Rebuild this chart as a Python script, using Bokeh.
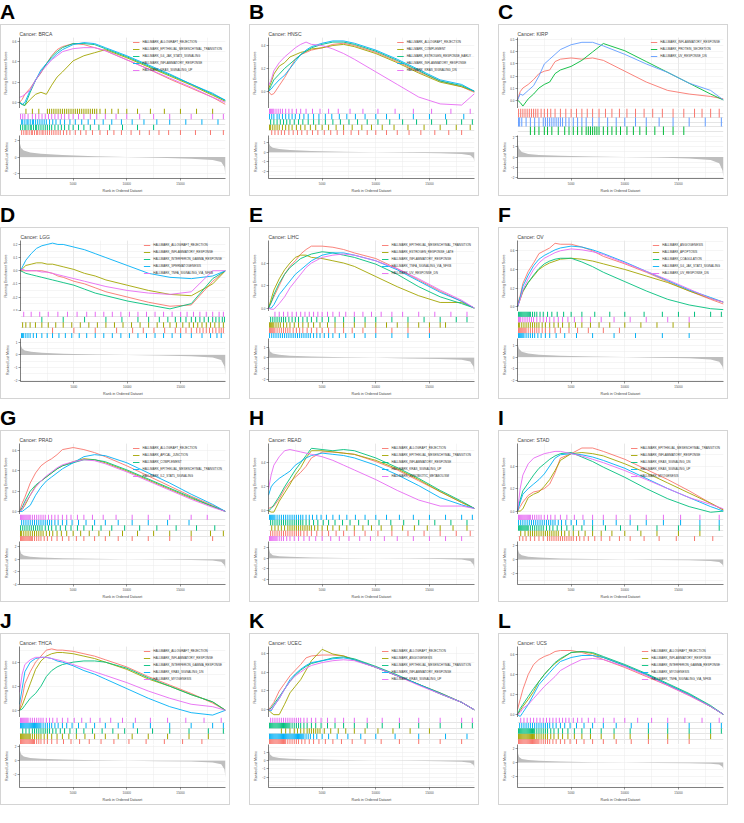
from bokeh.plotting import figure
from bokeh.layouts import column, row
from bokeh.models import Range1d, FixedTicker, Div, Grid, NumeralTickFormatter
from bokeh.embed import file_html
from bokeh.resources import INLINE

N_GENES = 19200
RANKS = [0, 250, 500, 1000, 1500, 2000, 2500, 3000, 3500, 4000, 5000, 6000, 7000, 8000,
         10000, 12000, 14000, 16000, 18000, 19200]
METRIC_RANKS = [0, 50, 150, 400, 1000, 2000, 4000, 7000, 10000, 13000, 16000, 18000, 18800, 19100, 19200]
X_TICKS = [5000, 10000, 15000]
X_GRID = [2500, 5000, 7500, 10000, 12500, 15000, 17500]
PAL5 = ["#F8766D", "#A3A500", "#00BF7D", "#00B0F6", "#E76BF3"]
PAL3 = ["#F8766D", "#00BA38", "#619CFF"]

# ---------------- A: BRCA ----------------
A_sets = ["HALLMARK_ALLOGRAFT_REJECTION", "HALLMARK_EPITHELIAL_MESENCHYMAL_TRANSITION",
          "HALLMARK_IL6_JAK_STAT3_SIGNALING", "HALLMARK_INFLAMMATORY_RESPONSE", "HALLMARK_KRAS_SIGNALING_UP"]
A_es = [
    [0.0, 0.03, 0.08, 0.14, 0.22, 0.29, 0.38, 0.46, 0.52, 0.55, 0.58, 0.57, 0.54, 0.51, 0.42, 0.33, 0.23, 0.14, 0.05, -0.02],
    [0.0, -0.02, -0.03, 0.03, 0.08, 0.10, 0.08, 0.17, 0.25, 0.30, 0.41, 0.46, 0.49, 0.52, 0.44, 0.35, 0.26, 0.17, 0.07, 0.01],
    [0.0, -0.02, -0.03, 0.10, 0.22, 0.30, 0.38, 0.45, 0.50, 0.54, 0.58, 0.58, 0.57, 0.53, 0.45, 0.36, 0.27, 0.18, 0.08, 0.02],
    [0.0, -0.02, 0.0, 0.12, 0.22, 0.32, 0.38, 0.43, 0.48, 0.52, 0.57, 0.59, 0.58, 0.54, 0.46, 0.37, 0.28, 0.18, 0.09, 0.02],
    [0.05, 0.06, 0.08, 0.12, 0.22, 0.30, 0.36, 0.42, 0.46, 0.50, 0.53, 0.54, 0.54, 0.51, 0.42, 0.33, 0.24, 0.15, 0.05, 0.0],
]
A_hits = [
    [2, 4, 6, 7, 9, 11, 12, 14, 16, 17, 19, 21, 22, 24, 26, 28, 30, 32, 34, 36, 38, 41, 44, 47, 52, 57, 62, 68, 75, 82, 88, 95, 104, 112, 121, 130, 139, 150, 164, 178, 190],
    [6, 12, 18, 26, 28, 30, 32, 34, 36, 38, 40, 42, 44, 46, 48, 50, 52, 54, 56, 58, 60, 62, 64, 66, 68, 70, 72, 75, 80, 86, 92, 100, 110, 122, 135, 150, 165, 180],
    [1, 3, 5, 6, 8, 10, 11, 13, 15, 16, 18, 20, 22, 24, 26, 28, 30, 33, 36, 39, 42, 46, 50, 55, 60, 66, 74, 84, 96, 110, 125],
    [2, 3, 5, 7, 8, 10, 12, 13, 15, 17, 19, 21, 23, 25, 28, 31, 34, 38, 42, 47, 52, 58, 64, 70, 78, 86, 95, 105, 116, 128, 140, 155, 170, 185],
    [1, 3, 5, 8, 12, 15, 18, 21, 24, 27, 30, 33, 36, 39, 42, 46, 50, 55, 60, 66, 72, 80, 90, 100, 112, 125, 140, 160, 180, 190],
]
A_rows = [0, 2, 3, 4, 1]
A_base = 0
A_es_range = (-0.06, 0.64)
A_es_ticks = [0.0, 0.2, 0.4, 0.6]
A_metric = [2.3, 1.6, 1.1, 0.8, 0.55, 0.4, 0.25, 0.1, 0.0, -0.1, -0.2, -0.35, -0.6, -1.2, -2.3]
A_metric_range = (-2.6, 2.6)
A_metric_ticks = [-2, 0, 2]

# ---------------- B: HNSC ----------------
B_sets = ["HALLMARK_ALLOGRAFT_REJECTION", "HALLMARK_COMPLEMENT", "HALLMARK_ESTROGEN_RESPONSE_EARLY",
          "HALLMARK_INFLAMMATORY_RESPONSE", "HALLMARK_KRAS_SIGNALING_DN"]
B_es = [
    [0.0, -0.03, -0.02, 0.05, 0.12, 0.20, 0.28, 0.32, 0.34, 0.36, 0.38, 0.41, 0.42, 0.40, 0.34, 0.26, 0.17, 0.09, 0.04, -0.01],
    [0.02, 0.08, 0.15, 0.22, 0.25, 0.30, 0.32, 0.34, 0.35, 0.37, 0.38, 0.40, 0.41, 0.39, 0.33, 0.25, 0.16, 0.08, 0.04, 0.0],
    [0.0, 0.05, 0.10, 0.15, 0.20, 0.24, 0.28, 0.32, 0.35, 0.38, 0.41, 0.43, 0.43, 0.41, 0.35, 0.27, 0.18, 0.09, 0.05, 0.0],
    [0.0, 0.02, 0.05, 0.10, 0.14, 0.20, 0.26, 0.32, 0.36, 0.39, 0.42, 0.44, 0.44, 0.42, 0.36, 0.28, 0.19, 0.10, 0.06, 0.0],
    [0.05, 0.10, 0.18, 0.25, 0.30, 0.34, 0.38, 0.41, 0.43, 0.41, 0.40, 0.37, 0.33, 0.28, 0.17, 0.06, -0.05, -0.11, -0.12, -0.02],
]
B_hits = [
    [3, 6, 9, 12, 15, 19, 23, 27, 31, 36, 41, 46, 52, 58, 64, 70, 77, 84, 92, 100, 110, 120, 131, 142, 155, 168, 180],
    [1, 2, 4, 6, 8, 10, 13, 16, 19, 22, 26, 30, 34, 39, 44, 50, 56, 63, 70, 78, 87, 96, 106, 117, 130, 145, 160, 175, 188],
    [2, 5, 8, 11, 14, 17, 20, 24, 28, 32, 37, 42, 47, 53, 60, 67, 75, 83, 92, 102, 113, 125, 138, 152, 166, 180, 190],
    [1, 3, 5, 8, 10, 13, 16, 19, 22, 25, 29, 33, 37, 42, 47, 53, 59, 66, 73, 81, 90, 100, 110, 122, 135, 150, 165, 182],
    [1, 2, 3, 4, 5, 7, 9, 11, 13, 16, 19, 22, 26, 30, 35, 41, 48, 56, 65, 76, 88, 102, 118, 135, 152, 170, 188],
]
B_rows = [0, 1, 2, 3, 4]
B_base = 0
B_es_range = (-0.15, 0.47)
B_es_ticks = [0.0, 0.2, 0.4]
B_metric = [1.6, 1.0, 0.7, 0.5, 0.35, 0.25, 0.15, 0.06, 0.0, -0.05, -0.1, -0.18, -0.3, -0.6, -1.0]
B_metric_range = (-2.8, 1.8)
B_metric_ticks = [-2, -1, 0, 1]

# ---------------- C: KIRP ----------------
C_sets = ["HALLMARK_INFLAMMATORY_RESPONSE", "HALLMARK_PROTEIN_SECRETION", "HALLMARK_UV_RESPONSE_DN"]
C_es = [
    [0.0, 0.07, 0.10, 0.13, 0.17, 0.22, 0.24, 0.25, 0.32, 0.34, 0.35, 0.34, 0.35, 0.33, 0.24, 0.15, 0.08, 0.05, 0.03, 0.01],
    [0.0, -0.02, -0.05, 0.01, 0.05, 0.10, 0.13, 0.15, 0.22, 0.25, 0.28, 0.33, 0.40, 0.47, 0.41, 0.32, 0.23, 0.14, 0.05, 0.0],
    [0.0, 0.05, 0.04, 0.08, 0.12, 0.20, 0.30, 0.34, 0.38, 0.42, 0.46, 0.48, 0.48, 0.45, 0.38, 0.30, 0.23, 0.14, 0.08, 0.0],
]
C_hits = [
    [1, 3, 5, 7, 9, 11, 13, 15, 17, 19, 22, 25, 28, 31, 35, 40, 45, 50, 55, 60, 65, 70, 76, 82, 88, 95, 102, 110, 118, 126, 135, 145, 155, 165, 172, 180, 188],
    [12, 16, 20, 25, 28, 32, 38, 44, 48, 52, 56, 60, 64, 66, 68, 70, 72, 74, 76, 80, 84, 88, 92, 96, 102, 108, 114, 120, 128, 136, 145, 155],
    [1, 2, 4, 8, 12, 16, 20, 24, 26, 28, 30, 32, 34, 36, 38, 40, 42, 45, 48, 52, 56, 60, 64, 70, 76, 84, 92, 100, 110, 120, 132, 145, 160, 175, 190],
]
C_rows = [1, 2, 0]
C_base = 0
C_es_range = (-0.07, 0.52)
C_es_ticks = [0.0, 0.1, 0.2, 0.3, 0.4, 0.5]
C_metric = [1.9, 1.2, 0.8, 0.5, 0.3, 0.2, 0.12, 0.05, 0.0, -0.06, -0.15, -0.3, -0.6, -1.3, -2.0]
C_metric_range = (-2.1, 2.1)
C_metric_ticks = [-2, -1, 0, 1, 2]

# ---------------- D: LGG ----------------
D_sets = ["HALLMARK_ALLOGRAFT_REJECTION", "HALLMARK_INFLAMMATORY_RESPONSE", "HALLMARK_INTERFERON_GAMMA_RESPONSE",
          "HALLMARK_SPERMATOGENESIS", "HALLMARK_TNFA_SIGNALING_VIA_NFKB"]
D_es = [
    [0.0, 0.0, 0.0, 0.0, 0.0, 0.0, -0.01, -0.02, -0.04, -0.05, -0.08, -0.10, -0.13, -0.16, -0.20, -0.24, -0.27, -0.26, -0.08, 0.0],
    [0.0, 0.02, 0.04, 0.05, 0.06, 0.06, 0.05, 0.05, 0.04, 0.03, 0.01, -0.02, -0.04, -0.07, -0.11, -0.15, -0.18, -0.19, -0.10, 0.0],
    [0.0, -0.01, -0.02, -0.03, -0.04, -0.05, -0.06, -0.07, -0.08, -0.09, -0.11, -0.14, -0.17, -0.19, -0.23, -0.26, -0.29, -0.25, -0.06, 0.0],
    [0.0, 0.04, 0.08, 0.13, 0.17, 0.19, 0.20, 0.21, 0.20, 0.20, 0.18, 0.16, 0.13, 0.10, 0.04, -0.02, -0.05, -0.06, -0.04, 0.0],
    [0.01, 0.01, 0.0, 0.0, 0.0, -0.01, -0.01, -0.02, -0.03, -0.04, -0.06, -0.08, -0.10, -0.12, -0.15, -0.17, -0.18, -0.16, 0.0, 0.0],
]
D_hits = [
    [30, 50, 70, 90, 105, 115, 125, 135, 145, 150, 155, 160, 165, 168, 171, 174, 177, 180, 183, 186, 188, 190],
    [2, 5, 9, 14, 20, 26, 33, 40, 48, 56, 64, 72, 80, 88, 96, 104, 112, 120, 128, 134, 140, 146, 152, 158, 162, 166, 170, 174, 178, 182, 186, 190],
    [20, 40, 60, 80, 95, 110, 120, 130, 138, 145, 150, 155, 160, 164, 168, 172, 176, 180, 183, 186, 189, 191],
    [1, 2, 3, 5, 7, 9, 12, 15, 20, 25, 30, 36, 42, 48, 55, 62, 70, 78, 86, 94, 102, 110, 118, 126, 134, 142, 150, 160, 170, 178, 184, 188],
    [3, 10, 18, 26, 35, 44, 53, 62, 70, 78, 86, 94, 102, 110, 118, 126, 134, 142, 150, 156, 162, 168, 174, 180, 186, 190],
]
D_rows = [3, 0, 1, 2, 4]
D_base = 3
D_es_range = (-0.31, 0.23)
D_es_ticks = [-0.3, -0.2, -0.1, 0.0, 0.1, 0.2]
D_metric = [1.0, 0.7, 0.5, 0.35, 0.25, 0.18, 0.1, 0.04, 0.0, -0.05, -0.1, -0.2, -0.4, -0.9, -1.6]
D_metric_range = (-2.1, 1.3)
D_metric_ticks = [-2, -1, 0, 1]

# ---------------- E: LIHC ----------------
E_sets = ["HALLMARK_EPITHELIAL_MESENCHYMAL_TRANSITION", "HALLMARK_ESTROGEN_RESPONSE_LATE",
          "HALLMARK_INFLAMMATORY_RESPONSE", "HALLMARK_TNFA_SIGNALING_VIA_NFKB", "HALLMARK_UV_RESPONSE_DN"]
E_es = [
    [0.0, 0.05, 0.10, 0.20, 0.30, 0.37, 0.42, 0.48, 0.52, 0.55, 0.55, 0.54, 0.52, 0.49, 0.44, 0.35, 0.25, 0.15, 0.06, 0.0],
    [0.0, 0.08, 0.16, 0.26, 0.34, 0.40, 0.45, 0.47, 0.47, 0.45, 0.44, 0.42, 0.40, 0.37, 0.28, 0.19, 0.11, 0.05, 0.05, 0.0],
    [0.0, 0.05, 0.12, 0.22, 0.30, 0.36, 0.40, 0.44, 0.46, 0.48, 0.50, 0.49, 0.47, 0.45, 0.39, 0.30, 0.19, 0.10, 0.04, 0.0],
    [0.0, 0.0, 0.03, 0.12, 0.18, 0.24, 0.30, 0.34, 0.38, 0.42, 0.47, 0.49, 0.49, 0.47, 0.42, 0.34, 0.24, 0.14, 0.06, 0.0],
    [0.0, -0.01, -0.01, 0.04, 0.10, 0.18, 0.24, 0.30, 0.36, 0.40, 0.45, 0.47, 0.48, 0.47, 0.42, 0.35, 0.26, 0.16, 0.07, 0.0],
]
E_hits = [
    [1, 2, 3, 4, 5, 6, 8, 10, 12, 14, 16, 18, 20, 23, 26, 29, 32, 36, 40, 45, 50, 56, 62, 70, 78, 88, 100, 115, 130, 150],
    [1, 2, 3, 4, 5, 7, 9, 11, 14, 17, 20, 24, 28, 32, 37, 42, 48, 55, 62, 70, 80, 90, 100, 110, 120, 130, 140, 150, 160, 165],
    [2, 4, 6, 8, 10, 12, 14, 16, 19, 22, 25, 28, 32, 36, 40, 45, 50, 56, 62, 70, 80, 90, 100, 115, 130, 145, 160, 175, 185],
    [1, 3, 5, 7, 9, 11, 13, 15, 17, 19, 21, 23, 25, 27, 29, 31, 33, 35, 37, 39, 42, 45, 48, 52, 56, 60, 66, 72, 80, 90, 100, 115, 130, 150],
    [6, 10, 14, 18, 22, 26, 30, 34, 38, 42, 46, 50, 55, 60, 66, 72, 80, 88, 96, 105, 115, 125, 140, 155, 170, 185],
]
E_rows = [3, 0, 1, 2, 4]
E_base = 4
E_es_range = (-0.03, 0.6)
E_es_ticks = [0.0, 0.2, 0.4]
E_metric = [1.5, 1.0, 0.6, 0.4, 0.28, 0.2, 0.12, 0.05, 0.0, -0.05, -0.1, -0.18, -0.35, -0.8, -1.5]
E_metric_range = (-2.2, 1.8)
E_metric_ticks = [-2, -1, 0, 1]

# ---------------- F: OV ----------------
F_sets = ["HALLMARK_ANGIOGENESIS", "HALLMARK_APOPTOSIS", "HALLMARK_COAGULATION",
          "HALLMARK_IL6_JAK_STAT3_SIGNALING", "HALLMARK_UV_RESPONSE_DN"]
F_es = [
    [0.03, 0.12, 0.25, 0.38, 0.47, 0.57, 0.60, 0.63, 0.68, 0.67, 0.67, 0.64, 0.60, 0.54, 0.46, 0.37, 0.27, 0.17, 0.08, 0.03],
    [0.0, 0.08, 0.16, 0.26, 0.33, 0.40, 0.44, 0.47, 0.49, 0.51, 0.52, 0.51, 0.49, 0.46, 0.40, 0.33, 0.26, 0.17, 0.09, 0.05],
    [0.0, 0.10, 0.17, 0.26, 0.34, 0.41, 0.46, 0.49, 0.51, 0.52, 0.52, 0.48, 0.43, 0.37, 0.27, 0.17, 0.08, 0.02, -0.02, -0.03],
    [0.0, 0.10, 0.22, 0.34, 0.44, 0.51, 0.55, 0.58, 0.61, 0.63, 0.65, 0.64, 0.61, 0.57, 0.48, 0.38, 0.28, 0.18, 0.10, 0.05],
    [0.0, 0.08, 0.18, 0.30, 0.40, 0.47, 0.52, 0.55, 0.58, 0.60, 0.62, 0.61, 0.59, 0.56, 0.47, 0.38, 0.29, 0.19, 0.09, 0.05],
]
F_hits = [
    [1, 2, 3, 4, 5, 6, 7, 8, 10, 12, 14, 16, 18, 20, 23, 26, 30, 35, 40, 48, 56, 66, 80, 95],
    [1, 2, 4, 6, 8, 10, 12, 14, 16, 18, 20, 23, 26, 30, 34, 38, 42, 48, 54, 60, 68, 76, 86, 100, 115, 130, 145, 160],
    [1, 2, 3, 4, 5, 6, 7, 8, 9, 10, 11, 12, 14, 16, 18, 21, 24, 28, 32, 37, 43, 50, 60, 72, 86, 100, 118, 135, 150, 165, 180, 190],
    [1, 2, 3, 4, 5, 6, 8, 10, 12, 14, 16, 19, 22, 26, 30, 36, 44, 55, 70, 90, 110, 135, 160],
    [1, 2, 3, 5, 7, 9, 11, 13, 15, 18, 21, 24, 27, 30, 34, 38, 42, 47, 53, 60, 68, 78, 90, 105, 120, 140, 160],
]
F_rows = [3, 0, 1, 4, 2]
F_base = 2
F_es_range = (-0.05, 0.71)
F_es_ticks = [0.0, 0.2, 0.4, 0.6]
F_metric = [1.6, 1.0, 0.7, 0.45, 0.3, 0.2, 0.12, 0.05, 0.0, -0.05, -0.1, -0.2, -0.4, -0.8, -1.2]
F_metric_range = (-2.1, 1.6)
F_metric_ticks = [-2, -1, 0, 1]

# ---------------- G: PRAD ----------------
G_sets = ["HALLMARK_ALLOGRAFT_REJECTION", "HALLMARK_APICAL_JUNCTION", "HALLMARK_COMPLEMENT",
          "HALLMARK_EPITHELIAL_MESENCHYMAL_TRANSITION", "HALLMARK_IL2_STAT5_SIGNALING"]
G_es = [
    [0.0, 0.08, 0.14, 0.28, 0.38, 0.45, 0.49, 0.52, 0.56, 0.61, 0.63, 0.61, 0.58, 0.54, 0.45, 0.35, 0.25, 0.15, 0.06, 0.0],
    [0.0, 0.02, 0.06, 0.16, 0.25, 0.30, 0.34, 0.38, 0.42, 0.45, 0.49, 0.52, 0.51, 0.48, 0.40, 0.31, 0.22, 0.13, 0.05, 0.0],
    [0.0, 0.04, 0.10, 0.20, 0.26, 0.30, 0.34, 0.38, 0.42, 0.45, 0.48, 0.51, 0.51, 0.49, 0.41, 0.32, 0.23, 0.14, 0.05, 0.0],
    [0.0, 0.0, 0.02, 0.06, 0.16, 0.24, 0.30, 0.34, 0.38, 0.42, 0.48, 0.54, 0.56, 0.55, 0.48, 0.38, 0.28, 0.17, 0.07, 0.0],
    [0.0, 0.02, 0.08, 0.16, 0.24, 0.30, 0.35, 0.39, 0.43, 0.46, 0.49, 0.51, 0.50, 0.47, 0.39, 0.30, 0.21, 0.12, 0.04, 0.0],
]
G_hits = [
    [1, 2, 3, 4, 5, 6, 7, 8, 9, 10, 11, 12, 14, 16, 18, 20, 23, 26, 30, 35, 40, 46, 53, 60, 70, 80, 92, 105, 120, 140, 160, 180],
    [1, 2, 4, 6, 8, 10, 12, 14, 16, 18, 20, 22, 25, 28, 31, 35, 39, 44, 50, 57, 65, 74, 84, 96, 110, 125, 140, 160, 178, 190],
    [1, 3, 5, 7, 9, 11, 13, 15, 17, 19, 21, 24, 27, 30, 34, 38, 43, 48, 54, 60, 68, 76, 86, 98, 112, 128, 146, 165, 182],
    [2, 4, 6, 8, 10, 12, 14, 16, 18, 20, 22, 24, 26, 28, 30, 33, 36, 40, 44, 49, 55, 62, 70, 80, 92, 105, 120, 138, 158],
    [1, 2, 3, 4, 5, 6, 7, 8, 9, 10, 12, 14, 16, 18, 20, 22, 24, 27, 30, 33, 36, 40, 44, 48, 54, 60, 68, 78, 90, 105, 120, 140, 160, 175],
]
G_rows = [0, 1, 2, 3, 4]
G_base = 4
G_es_range = (-0.03, 0.67)
G_es_ticks = [0.0, 0.2, 0.4, 0.6]
G_metric = [2.5, 1.5, 0.9, 0.6, 0.4, 0.28, 0.16, 0.06, 0.0, -0.06, -0.12, -0.22, -0.4, -0.9, -1.5]
G_metric_range = (-4.0, 2.8)
G_metric_ticks = [-4, -2, 0, 2]

# ---------------- H: READ ----------------
H_sets = ["HALLMARK_ALLOGRAFT_REJECTION", "HALLMARK_EPITHELIAL_MESENCHYMAL_TRANSITION",
          "HALLMARK_INFLAMMATORY_RESPONSE", "HALLMARK_KRAS_SIGNALING_UP", "HALLMARK_XENOBIOTIC_METABOLISM"]
H_es = [
    [0.02, 0.03, 0.04, 0.10, 0.18, 0.24, 0.28, 0.32, 0.37, 0.44, 0.49, 0.49, 0.48, 0.47, 0.41, 0.34, 0.25, 0.16, 0.07, 0.02],
    [0.0, -0.01, -0.01, 0.08, 0.15, 0.22, 0.30, 0.36, 0.44, 0.50, 0.50, 0.49, 0.48, 0.47, 0.42, 0.35, 0.26, 0.16, 0.07, 0.02],
    [0.0, 0.02, 0.05, 0.12, 0.20, 0.27, 0.34, 0.40, 0.46, 0.52, 0.51, 0.50, 0.51, 0.50, 0.44, 0.36, 0.27, 0.17, 0.08, 0.02],
    [0.13, 0.20, 0.23, 0.27, 0.30, 0.33, 0.38, 0.41, 0.44, 0.46, 0.48, 0.47, 0.46, 0.44, 0.38, 0.30, 0.21, 0.11, 0.05, 0.02],
    [0.18, 0.30, 0.38, 0.45, 0.50, 0.51, 0.50, 0.49, 0.48, 0.47, 0.45, 0.42, 0.38, 0.34, 0.26, 0.17, 0.09, 0.04, 0.04, 0.02],
]
H_hits = [
    [2, 4, 6, 8, 10, 12, 14, 16, 18, 20, 22, 24, 26, 28, 30, 33, 36, 40, 45, 50, 56, 63, 70, 80, 90, 102, 115, 130, 145, 160, 175, 188],
    [3, 6, 9, 12, 15, 18, 20, 22, 24, 26, 28, 30, 32, 34, 36, 38, 40, 43, 46, 50, 55, 60, 66, 73, 80, 88, 96, 105, 115, 125, 136, 148, 160, 172, 185],
    [2, 4, 6, 8, 10, 12, 14, 16, 18, 20, 22, 24, 26, 28, 30, 32, 35, 38, 42, 46, 51, 56, 62, 69, 76, 84, 93, 103, 114, 126, 140, 155, 170, 185],
    [1, 2, 3, 4, 5, 6, 8, 10, 12, 14, 16, 18, 20, 22, 24, 26, 28, 30, 32, 35, 38, 41, 45, 49, 54, 60, 66, 73, 81, 90, 100, 110, 122, 135, 150, 165, 180, 190],
    [1, 2, 3, 4, 5, 6, 7, 8, 10, 12, 14, 17, 20, 24, 28, 33, 38, 44, 50, 58, 66, 75, 85, 95, 108, 120, 135, 150, 165, 180],
]
H_rows = [4, 0, 1, 2, 3]
H_base = 3
H_es_range = (-0.03, 0.56)
H_es_ticks = [0.0, 0.2, 0.4]
H_metric = [2.8, 1.8, 1.0, 0.6, 0.4, 0.28, 0.16, 0.06, 0.0, -0.06, -0.12, -0.22, -0.5, -1.2, -2.0]
H_metric_range = (-5.0, 3.2)
H_metric_ticks = [-4, -2, 0, 2]

# ---------------- I: STAD ----------------
I_sets = ["HALLMARK_EPITHELIAL_MESENCHYMAL_TRANSITION", "HALLMARK_INFLAMMATORY_RESPONSE",
          "HALLMARK_KRAS_SIGNALING_DN", "HALLMARK_KRAS_SIGNALING_UP", "HALLMARK_MYOGENESIS"]
I_es = [
    [0.0, 0.04, 0.08, 0.14, 0.17, 0.18, 0.20, 0.24, 0.34, 0.47, 0.51, 0.56, 0.56, 0.53, 0.46, 0.37, 0.28, 0.18, 0.07, 0.01],
    [0.0, 0.0, 0.02, 0.12, 0.15, 0.17, 0.22, 0.28, 0.36, 0.45, 0.51, 0.52, 0.51, 0.49, 0.42, 0.34, 0.25, 0.16, 0.07, 0.01],
    [0.0, 0.10, 0.18, 0.25, 0.32, 0.38, 0.42, 0.46, 0.49, 0.51, 0.52, 0.48, 0.44, 0.39, 0.30, 0.20, 0.11, 0.04, -0.01, 0.0],
    [0.0, 0.08, 0.15, 0.20, 0.24, 0.28, 0.33, 0.40, 0.47, 0.50, 0.51, 0.50, 0.48, 0.45, 0.38, 0.29, 0.20, 0.12, 0.04, 0.0],
    [0.0, 0.20, 0.32, 0.42, 0.47, 0.49, 0.51, 0.52, 0.53, 0.53, 0.51, 0.49, 0.46, 0.43, 0.36, 0.28, 0.20, 0.12, 0.06, 0.02],
]
I_hits = [
    [2, 5, 8, 12, 16, 20, 24, 28, 30, 32, 34, 36, 38, 40, 42, 44, 46, 48, 50, 52, 55, 58, 62, 66, 72, 78, 86, 95, 105, 118, 132, 148, 165, 182],
    [3, 7, 10, 12, 14, 16, 18, 20, 22, 24, 26, 28, 30, 32, 34, 36, 38, 41, 44, 48, 52, 57, 63, 70, 78, 88, 100, 115, 130, 150, 170],
    [1, 2, 3, 4, 5, 6, 7, 8, 9, 10, 12, 14, 16, 18, 20, 22, 24, 27, 30, 33, 37, 41, 46, 52, 60, 70, 82, 96, 112, 130, 150, 170, 188],
    [1, 3, 5, 7, 9, 11, 13, 15, 17, 19, 21, 23, 25, 27, 29, 31, 33, 35, 38, 41, 45, 50, 55, 62, 70, 80, 92, 105, 120, 136, 152, 170, 188],
    [1, 2, 3, 4, 5, 6, 7, 8, 9, 10, 11, 12, 14, 16, 18, 20, 22, 25, 28, 31, 35, 40, 46, 53, 61, 70, 80, 92, 105, 120, 136, 152, 170, 188],
]
I_rows = [0, 1, 2, 3, 4]
I_base = 4
I_es_range = (-0.03, 0.6)
I_es_ticks = [0.0, 0.2, 0.4]
I_metric = [2.2, 1.4, 0.9, 0.6, 0.4, 0.28, 0.16, 0.06, 0.0, -0.06, -0.12, -0.2, -0.35, -0.7, -1.1]
I_metric_range = (-3.6, 2.6)
I_metric_ticks = [-2, 0, 2]

# ---------------- J: THCA ----------------
J_sets = ["HALLMARK_ALLOGRAFT_REJECTION", "HALLMARK_INFLAMMATORY_RESPONSE", "HALLMARK_INTERFERON_GAMMA_RESPONSE",
          "HALLMARK_KRAS_SIGNALING_DN", "HALLMARK_MYOGENESIS"]
J_es = [
    [0.0, 0.10, 0.22, 0.32, 0.40, 0.45, 0.50, 0.51, 0.50, 0.50, 0.49, 0.47, 0.45, 0.42, 0.36, 0.28, 0.21, 0.14, 0.06, 0.0],
    [0.0, 0.04, 0.10, 0.22, 0.34, 0.41, 0.45, 0.47, 0.48, 0.48, 0.47, 0.45, 0.43, 0.40, 0.34, 0.26, 0.20, 0.13, 0.07, 0.0],
    [0.0, 0.01, 0.04, 0.10, 0.14, 0.20, 0.28, 0.33, 0.36, 0.38, 0.40, 0.41, 0.41, 0.40, 0.35, 0.27, 0.20, 0.13, 0.07, 0.0],
    [0.05, 0.18, 0.32, 0.40, 0.43, 0.44, 0.44, 0.43, 0.41, 0.40, 0.37, 0.33, 0.30, 0.26, 0.18, 0.10, 0.03, -0.02, -0.04, 0.0],
    [0.15, 0.30, 0.38, 0.42, 0.44, 0.44, 0.44, 0.43, 0.42, 0.41, 0.38, 0.35, 0.32, 0.29, 0.23, 0.16, 0.10, 0.05, 0.03, 0.0],
]
J_hits = [
    [1, 2, 3, 4, 5, 6, 7, 8, 9, 10, 11, 12, 13, 14, 16, 18, 20, 23, 26, 30, 35, 41, 48, 56, 65, 76, 88, 102, 118, 135, 152, 170],
    [1, 2, 3, 4, 5, 6, 7, 8, 9, 10, 12, 14, 16, 18, 20, 23, 26, 30, 35, 40, 46, 53, 61, 70, 80, 92, 105, 120, 138, 158, 176],
    [3, 6, 9, 12, 14, 16, 18, 20, 22, 24, 26, 28, 31, 34, 38, 42, 47, 53, 60, 68, 77, 87, 98, 110, 124, 140, 158, 176, 190],
    [1, 2, 3, 4, 5, 6, 7, 8, 9, 10, 11, 12, 13, 14, 15, 16, 17, 18, 19, 20, 22, 24, 26, 28, 30, 33, 36, 40, 44, 49, 55, 62, 70, 80, 92, 106, 122, 140, 160, 180, 190],
    [1, 2, 3, 4, 5, 6, 7, 8, 10, 12, 14, 16, 18, 20, 22, 25, 28, 31, 35, 40, 45, 51, 58, 66, 75, 85, 96, 108, 122, 138, 155, 172, 188],
]
J_rows = [0, 1, 2, 3, 4]
J_base = 4
J_es_range = (-0.06, 0.53)
J_es_ticks = [0.0, 0.2, 0.4]
J_metric = [2.0, 1.4, 0.9, 0.6, 0.4, 0.28, 0.16, 0.06, 0.0, -0.06, -0.12, -0.25, -0.5, -1.2, -2.4]
J_metric_range = (-3.8, 2.3)
J_metric_ticks = [-2, 0, 2]

# ---------------- K: UCEC ----------------
K_sets = ["HALLMARK_ALLOGRAFT_REJECTION", "HALLMARK_ANGIOGENESIS", "HALLMARK_EPITHELIAL_MESENCHYMAL_TRANSITION",
          "HALLMARK_INFLAMMATORY_RESPONSE", "HALLMARK_KRAS_SIGNALING_UP"]
K_es = [
    [0.0, 0.04, 0.08, 0.20, 0.28, 0.36, 0.42, 0.48, 0.55, 0.57, 0.58, 0.58, 0.57, 0.53, 0.45, 0.36, 0.27, 0.18, 0.08, 0.0],
    [0.0, -0.03, -0.05, -0.05, 0.06, 0.18, 0.25, 0.32, 0.42, 0.52, 0.64, 0.59, 0.57, 0.53, 0.45, 0.36, 0.27, 0.17, 0.08, 0.0],
    [0.0, 0.02, 0.06, 0.14, 0.22, 0.30, 0.37, 0.42, 0.46, 0.49, 0.52, 0.55, 0.56, 0.54, 0.46, 0.37, 0.27, 0.18, 0.08, 0.0],
    [0.0, -0.01, 0.04, 0.12, 0.22, 0.32, 0.38, 0.43, 0.47, 0.50, 0.52, 0.54, 0.55, 0.53, 0.45, 0.36, 0.27, 0.17, 0.08, 0.0],
    [0.0, 0.0, 0.04, 0.12, 0.22, 0.30, 0.36, 0.40, 0.44, 0.47, 0.50, 0.52, 0.53, 0.52, 0.45, 0.36, 0.26, 0.17, 0.08, 0.0],
]
K_hits = [
    [1, 2, 3, 4, 5, 6, 7, 8, 9, 10, 11, 12, 13, 14, 15, 16, 18, 20, 22, 24, 26, 28, 31, 34, 38, 42, 47, 53, 60, 68, 78, 90, 105, 122, 140, 160, 180],
    [12, 16, 20, 24, 27, 30, 33, 36, 38, 40, 42, 44, 46, 48, 52, 58, 65, 72, 80, 90, 102, 116, 132, 150],
    [1, 2, 3, 4, 5, 6, 7, 8, 9, 10, 11, 12, 13, 14, 15, 16, 17, 18, 19, 20, 22, 24, 26, 28, 30, 33, 36, 40, 44, 49, 55, 62, 70, 80, 92, 106, 122, 140, 160, 180, 190],
    [1, 2, 3, 4, 5, 6, 7, 8, 9, 10, 11, 12, 13, 14, 15, 16, 17, 18, 19, 20, 21, 22, 23, 24, 25, 26, 27, 28, 29, 30, 31, 32, 33, 35, 37, 39, 42, 45, 50, 56, 64, 74, 86, 100, 118, 140, 165, 185],
    [2, 4, 6, 8, 10, 12, 14, 16, 18, 20, 22, 24, 26, 28, 30, 33, 36, 40, 44, 49, 55, 62, 70, 80, 92, 106, 122, 140, 160, 180, 190],
]
K_rows = [0, 3, 1, 2, 4]
K_base = 4
K_es_range = (-0.08, 0.67)
K_es_ticks = [0.0, 0.2, 0.4, 0.6]
K_metric = [1.8, 1.2, 0.7, 0.45, 0.3, 0.2, 0.12, 0.05, 0.0, -0.04, -0.08, -0.14, -0.25, -0.5, -0.9]
K_metric_range = (-3.2, 1.9)
K_metric_ticks = [-2, -1, 0, 1]

# ---------------- L: UCS ----------------
L_sets = ["HALLMARK_ALLOGRAFT_REJECTION", "HALLMARK_INFLAMMATORY_RESPONSE", "HALLMARK_INTERFERON_GAMMA_RESPONSE",
          "HALLMARK_MYOGENESIS", "HALLMARK_TNFA_SIGNALING_VIA_NFKB"]
L_es = [
    [0.05, 0.15, 0.25, 0.40, 0.50, 0.55, 0.58, 0.60, 0.63, 0.64, 0.64, 0.62, 0.59, 0.55, 0.47, 0.38, 0.29, 0.19, 0.08, 0.0],
    [0.0, 0.04, 0.08, 0.15, 0.23, 0.33, 0.40, 0.46, 0.51, 0.55, 0.62, 0.63, 0.61, 0.57, 0.49, 0.40, 0.30, 0.20, 0.08, 0.0],
    [0.0, 0.06, 0.10, 0.18, 0.26, 0.33, 0.40, 0.46, 0.52, 0.56, 0.62, 0.63, 0.62, 0.58, 0.50, 0.41, 0.31, 0.21, 0.09, 0.0],
    [0.0, -0.02, 0.02, 0.10, 0.20, 0.30, 0.36, 0.42, 0.48, 0.53, 0.57, 0.59, 0.59, 0.57, 0.49, 0.40, 0.30, 0.20, 0.08, 0.0],
    [0.0, 0.02, 0.06, 0.10, 0.16, 0.22, 0.28, 0.33, 0.38, 0.44, 0.50, 0.55, 0.56, 0.55, 0.48, 0.39, 0.29, 0.19, 0.08, 0.0],
]
L_hits = [
    [1, 2, 3, 4, 5, 6, 7, 8, 9, 10, 11, 12, 13, 14, 15, 16, 17, 18, 19, 20, 22, 24, 26, 28, 30, 33, 36, 40, 44, 49, 55, 62, 70, 80, 92, 106, 122, 140, 160],
    [1, 2, 3, 4, 5, 6, 7, 8, 9, 10, 11, 12, 13, 14, 15, 16, 18, 20, 22, 24, 26, 28, 31, 34, 38, 42, 47, 53, 60, 68, 78, 90, 105, 122, 140, 160, 180],
    [1, 2, 3, 4, 5, 6, 7, 8, 9, 10, 11, 12, 13, 14, 15, 16, 18, 20, 22, 24, 26, 28, 31, 34, 38, 42, 47, 53, 60, 68, 78, 90, 105, 122, 140, 160, 180, 190],
    [2, 4, 6, 8, 10, 12, 14, 16, 18, 20, 22, 24, 26, 28, 30, 33, 36, 40, 44, 49, 55, 62, 70, 80, 92, 106, 122, 140, 160, 180, 190],
    [3, 6, 9, 12, 15, 18, 21, 24, 27, 30, 33, 36, 39, 42, 45, 48, 52, 56, 60, 66, 72, 80, 90, 100, 112, 125, 140, 156, 172, 188],
]
L_rows = [0, 1, 2, 3, 4]
L_base = 4
L_es_range = (-0.03, 0.68)
L_es_ticks = [0.0, 0.2, 0.4, 0.6]
L_metric = [2.4, 1.3, 0.8, 0.5, 0.35, 0.25, 0.14, 0.05, 0.0, -0.05, -0.1, -0.18, -0.3, -0.6, -1.0]
L_metric_range = (-3.6, 2.6)
L_metric_ticks = [-2, 0, 2]

PANELS = [
    ("A", "BRCA", A_sets, A_es, A_hits, A_rows, A_base, A_es_range, A_es_ticks, A_metric, A_metric_range, A_metric_ticks),
    ("B", "HNSC", B_sets, B_es, B_hits, B_rows, B_base, B_es_range, B_es_ticks, B_metric, B_metric_range, B_metric_ticks),
    ("C", "KIRP", C_sets, C_es, C_hits, C_rows, C_base, C_es_range, C_es_ticks, C_metric, C_metric_range, C_metric_ticks),
    ("D", "LGG", D_sets, D_es, D_hits, D_rows, D_base, D_es_range, D_es_ticks, D_metric, D_metric_range, D_metric_ticks),
    ("E", "LIHC", E_sets, E_es, E_hits, E_rows, E_base, E_es_range, E_es_ticks, E_metric, E_metric_range, E_metric_ticks),
    ("F", "OV", F_sets, F_es, F_hits, F_rows, F_base, F_es_range, F_es_ticks, F_metric, F_metric_range, F_metric_ticks),
    ("G", "PRAD", G_sets, G_es, G_hits, G_rows, G_base, G_es_range, G_es_ticks, G_metric, G_metric_range, G_metric_ticks),
    ("H", "READ", H_sets, H_es, H_hits, H_rows, H_base, H_es_range, H_es_ticks, H_metric, H_metric_range, H_metric_ticks),
    ("I", "STAD", I_sets, I_es, I_hits, I_rows, I_base, I_es_range, I_es_ticks, I_metric, I_metric_range, I_metric_ticks),
    ("J", "THCA", J_sets, J_es, J_hits, J_rows, J_base, J_es_range, J_es_ticks, J_metric, J_metric_range, J_metric_ticks),
    ("K", "UCEC", K_sets, K_es, K_hits, K_rows, K_base, K_es_range, K_es_ticks, K_metric, K_metric_range, K_metric_ticks),
    ("L", "UCS", L_sets, L_es, L_hits, L_rows, L_base, L_es_range, L_es_ticks, L_metric, L_metric_range, L_metric_ticks),
]

FONT = "Liberation Sans"
GRID_COLOR = "#EBEBEB"
W = 228
LEFT = 16
RIGHT = 4


def half_steps(ticks, lo, hi):
    step = ticks[1] - ticks[0]
    out = []
    t = ticks[0] - step
    while t <= hi + step:
        for v in (t, t + step / 2):
            if lo < v < hi:
                out.append(round(v, 4))
        t += step
    return out


def style_axis(ax):
    ax.axis_line_color = "black"
    ax.axis_line_width = 0.5
    ax.major_tick_line_color = "#333333"
    ax.major_tick_line_width = 0.5
    ax.major_tick_out = 2
    ax.major_tick_in = 0
    ax.minor_tick_line_color = None
    ax.major_label_text_font = FONT
    ax.major_label_text_font_size = "3px"
    ax.major_label_text_color = "#4D4D4D"
    ax.major_label_standoff = 1
    ax.axis_label_text_font = FONT
    ax.axis_label_text_font_size = "3.6px"
    ax.axis_label_text_font_style = "normal"
    ax.axis_label_standoff = 1


def add_grid(p, dim, ticks):
    g = Grid(dimension=dim, ticker=FixedTicker(ticks=ticks), grid_line_color=GRID_COLOR, grid_line_width=0.5)
    p.add_layout(g)


def make_panel(letter, cancer, sets, es, hits, rows, base, es_rng, es_ticks, metric, m_rng, m_ticks):
    colors = PAL5 if len(sets) == 5 else PAL3
    common = dict(width=W, output_backend="svg", toolbar_location=None, min_border_left=LEFT,
                  min_border_right=RIGHT, background_fill_color="white", border_fill_color="white")

    # Running enrichment score
    p1 = figure(height=83, x_range=Range1d(0, N_GENES), y_range=Range1d(*es_rng),
                x_axis_location=None, min_border_top=12, min_border_bottom=0, **common)
    p1.outline_line_color = None
    p1.ygrid.visible = False
    add_grid(p1, 0, X_GRID)
    add_grid(p1, 1, half_steps(es_ticks, es_rng[0], es_rng[1]))
    p1.yaxis.ticker = FixedTicker(ticks=es_ticks)
    p1.yaxis.formatter = NumeralTickFormatter(format="0.0")
    p1.yaxis.axis_label = "Running Enrichment Score"
    style_axis(p1.yaxis[0])
    for i, name in enumerate(sets):
        p1.line(RANKS, es[i], line_color=colors[i], line_width=0.9, legend_label=name)
    p1.title.text = "Cancer: " + cancer
    p1.title.text_font = FONT
    p1.title.text_font_size = "5px"
    p1.title.text_font_style = "normal"
    p1.title.standoff = 2
    p1.title.offset = 0
    lg = p1.legend[0]
    lg.location = "top_right"
    lg.margin = 2
    lg.padding = 1
    lg.spacing = 3
    lg.label_height = 4
    lg.glyph_height = 4
    lg.glyph_width = 7
    lg.label_standoff = 3
    lg.label_text_font = FONT
    lg.label_text_font_size = "3px"
    lg.label_text_color = "#333333"
    lg.background_fill_alpha = 0
    lg.border_line_alpha = 0

    # Hit ticks
    n = len(sets)
    p2 = figure(height=27, x_range=Range1d(0, N_GENES), y_range=Range1d(0, n),
                x_axis_location=None, y_axis_location=None, min_border_top=0, min_border_bottom=0, **common)
    p2.outline_line_color = None
    add_grid(p2, 0, X_GRID)
    for i in range(n):
        level = rows.index(i)
        xs = [h * 100 for h in hits[i]]
        p2.segment(x0=xs, y0=[level] * len(xs), x1=xs, y1=[level + 1] * len(xs),
                   line_color=colors[i], line_width=1.0)
    p2.segment(x0=[0], y0=[0], x1=[N_GENES], y1=[0], line_color=colors[base], line_width=0.8)

    # Ranked list metric
    p3 = figure(height=60, x_range=Range1d(0, N_GENES), y_range=Range1d(*m_rng),
                min_border_top=0, min_border_bottom=13, **common)
    p3.outline_line_color = None
    p3.xgrid.visible = False
    p3.ygrid.visible = False
    add_grid(p3, 0, X_GRID)
    add_grid(p3, 1, half_steps(m_ticks, m_rng[0], m_rng[1]))
    p3.varea(x=METRIC_RANKS, y1=[0] * len(metric), y2=metric, fill_color="#BEBEBE")
    p3.xaxis.ticker = FixedTicker(ticks=X_TICKS)
    p3.yaxis.ticker = FixedTicker(ticks=m_ticks)
    p3.xaxis.axis_label = "Rank in Ordered Dataset"
    p3.yaxis.axis_label = "Ranked List Metric"
    style_axis(p3.xaxis[0])
    style_axis(p3.yaxis[0])

    box = column(p1, p2, p3, spacing=0, margin=0, styles={"border": "1px solid #D4D4D4"})
    lab = Div(text=letter, width=W + 2, height=24, margin=(0, 0, 0, 0),
              styles={"font-family": "Liberation Sans, Arial, sans-serif", "font-size": "21px",
                      "font-weight": "bold", "line-height": "24px", "color": "black"})
    return column(lab, box, spacing=0, margin=0)


panels = [make_panel(*cfg) for cfg in PANELS]
rows_ = [row(*panels[i:i + 3], spacing=19, margin=0) for i in range(0, 12, 3)]
page = column(*rows_, spacing=7, margin=0)

open("out.html", "w").write(file_html(page, INLINE))
